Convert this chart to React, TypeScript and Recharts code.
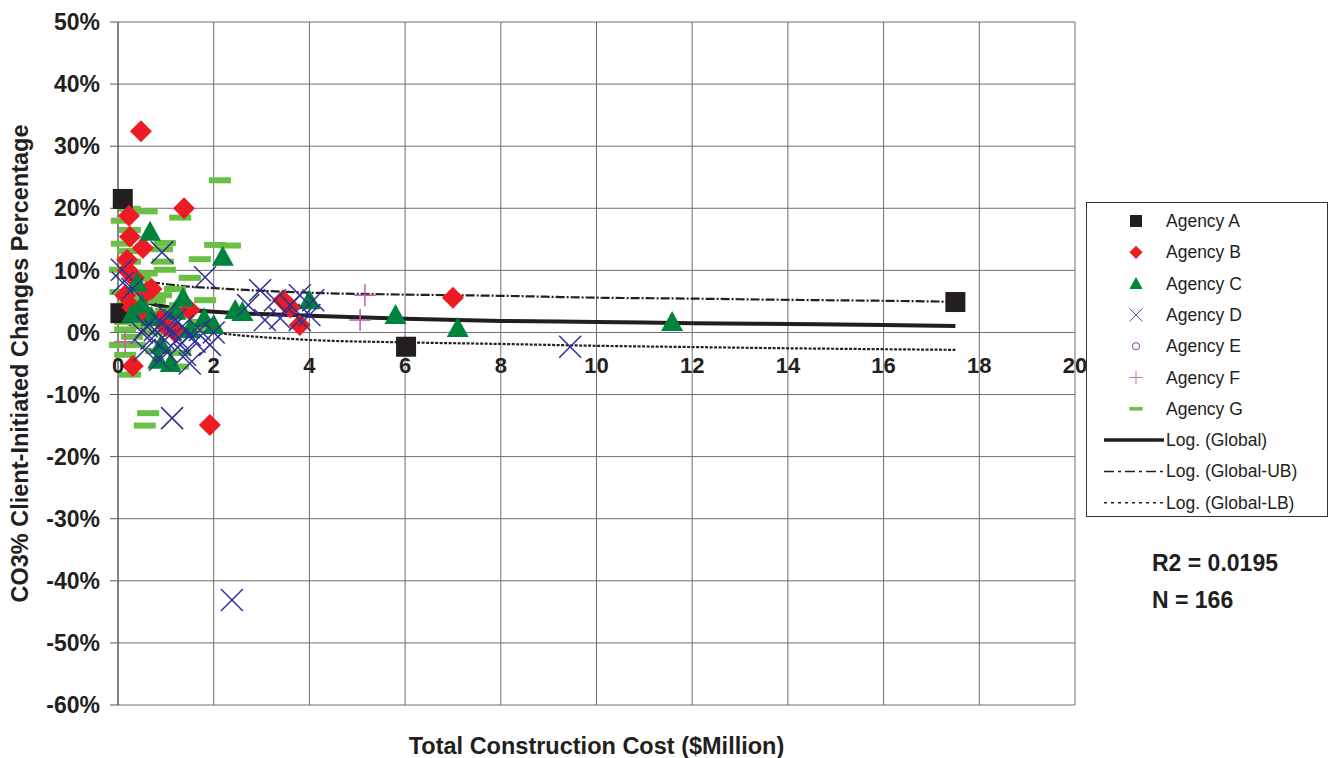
import React from 'react';
import {
  ComposedChart,
  Scatter,
  Line,
  XAxis,
  YAxis,
  CartesianGrid,
} from 'recharts';

// values: [cost $M, change %]
const agencyA = [[0.1, 21.5], [0.05, 3.1], [6.02, -2.3], [17.5, 4.9]];
const agencyB = [
  [0.48, 32.4], [1.38, 20.0], [0.23, 18.8], [0.25, 15.4], [0.52, 13.6], [0.19, 11.7],
  [0.33, 8.8], [0.88, 2.0], [1.5, 3.6], [0.6, 6.5], [7.0, 5.6], [3.45, 5.2], [3.8, 1.2],
  [0.31, -5.4], [1.92, -14.9], [0.2, 10.0], [0.15, 6.0], [0.3, 4.0], [0.5, 3.0],
  [1.0, 1.0], [1.2, 0.0], [0.7, 7.0], [3.6, 4.0],
];
const agencyC = [
  [0.67, 16.2], [2.19, 12.2], [1.36, 5.6], [0.4, 8.0], [2.45, 3.6], [2.6, 3.3], [4.0, 5.2],
  [5.8, 2.8], [7.1, 0.7], [11.58, 1.7], [0.84, -4.4], [1.1, -4.9], [1.8, 2.3], [2.0, 1.2],
  [0.7, 2.5], [0.3, 3.0], [0.5, 4.5], [1.5, 0.5], [0.9, -2.0], [1.2, 3.5],
];
const agencyD = [
  [2.38, -43.1], [1.13, -13.8], [9.45, -2.3], [1.82, 8.9], [0.92, 12.9], [0.08, 10.1],
  [2.97, 6.8], [3.28, 5.2], [3.6, 4.4], [3.8, 6.0], [3.39, 2.3], [3.07, 2.0], [3.8, 2.0],
  [4.08, 5.2], [4.0, 2.8], [2.72, 4.4], [0.77, 0.4], [0.98, -1.2], [1.3, -2.0], [1.5, -0.4],
  [1.71, 0.4], [1.4, -3.6], [0.56, -2.8], [1.19, 2.0], [0.88, -4.4], [1.92, -2.0],
  [0.6, 1.0], [0.7, -1.0], [0.9, 1.5], [1.0, -3.0], [1.1, 0.5], [1.25, -1.0], [1.35, 1.0],
  [1.6, -1.5], [1.0, 3.0], [0.5, 0.0], [0.3, 7.0], [0.1, 8.0], [1.5, -5.0], [2.0, 0.0],
];
const agencyE = [[0.3, 2.0]];
const agencyF = [[5.16, 6.0], [5.06, 2.0], [0.15, -1.5]];
const agencyG = [
  [2.13, 24.5], [0.25, 19.9], [0.6, 19.5], [1.3, 18.5], [0.08, 18.0], [0.25, 16.5],
  [0.08, 14.3], [0.98, 14.4], [0.92, 13.4], [2.03, 14.1], [2.34, 14.0], [0.21, 13.1],
  [0.25, 11.4], [0.94, 11.4], [1.71, 11.8], [0.04, 10.1], [0.98, 10.1], [0.46, 8.6],
  [1.5, 8.8], [0.56, 7.3], [1.19, 7.0], [0.21, 5.9], [0.77, 5.1], [1.3, 4.4], [1.82, 5.2],
  [0.46, 3.6], [0.15, 1.7], [1.3, 2.8], [1.71, 1.7], [0.29, -0.7], [0.04, -2.0],
  [0.15, -3.6], [1.3, -3.3], [0.25, -6.8], [1.25, -5.5], [0.63, -13.0], [0.56, -15.0],
  [0.1, 3.0], [0.3, 2.0], [0.5, 1.0], [0.7, 0.0], [1.0, 3.5], [0.2, 4.5], [0.4, 5.5],
  [0.05, 6.5], [0.9, 6.0], [1.6, 0.5], [0.35, -2.0], [0.8, -3.0], [0.15, 0.5], [0.6, 9.5],
];

// trend lines, read at these costs
const trendX = [0.1, 0.5, 1.2, 2.1, 4, 6, 8, 10, 12, 14, 16, 17.5];
const trendGlobal = [7.1, 5.2, 3.9, 3.3, 2.7, 2.2, 1.85, 1.7, 1.5, 1.35, 1.2, 1.05];
const trendUB = [9.7, 8.5, 7.6, 7.1, 6.4, 6.1, 5.9, 5.6, 5.45, 5.25, 5.1, 4.95];
const trendLB = [3.1, 2.0, 0.9, -0.1, -1.2, -1.6, -1.85, -2.15, -2.35, -2.55, -2.7, -2.8];

const xTicks = [0, 2, 4, 6, 8, 10, 12, 14, 16, 18, 20];
const yTicks = [-60, -50, -40, -30, -20, -10, 0, 10, 20, 30, 40, 50];

const W = 1331;
const H = 758;
const TOP = 22;
const X_AXIS_H = 53;
const PLOT_H = H - TOP - X_AXIS_H;
const Y_MIN = -60;
const Y_MAX = 50;
const ZERO_Y = TOP + (PLOT_H * Y_MAX) / (Y_MAX - Y_MIN);

const FONT = '"Liberation Sans", Arial, sans-serif';
const BLACK = '#231f20';
const RED = '#ed1c24';
const DGREEN = '#00843d';
const NAVY = '#2e3192';
const PURPLE = '#7b2a8c';
const PINK = '#c45aaf';
const LGREEN = '#6abf45';

const pts = (arr: number[][]) => arr.map(([x, y]) => ({ x, y }));
const trend = (ys: number[]) => trendX.map((x, i) => ({ x, y: ys[i] }));

const Square = (p: any) => (
  <rect x={p.cx - 10} y={p.cy - 10} width={20} height={20} fill={BLACK} />
);
const Diamond = (p: any) => (
  <polygon
    points={`${p.cx},${p.cy - 11} ${p.cx + 11},${p.cy} ${p.cx},${p.cy + 11} ${p.cx - 11},${p.cy}`}
    fill={RED}
  />
);
const Triangle = (p: any) => (
  <polygon
    points={`${p.cx},${p.cy - 11} ${p.cx + 11},${p.cy + 9} ${p.cx - 11},${p.cy + 9}`}
    fill={DGREEN}
  />
);
const Cross = (p: any) => (
  <g stroke={NAVY} strokeWidth={1.5}>
    <line x1={p.cx - 11} y1={p.cy - 11} x2={p.cx + 11} y2={p.cy + 11} />
    <line x1={p.cx - 11} y1={p.cy + 11} x2={p.cx + 11} y2={p.cy - 11} />
  </g>
);
const Circle = (p: any) => (
  <circle cx={p.cx} cy={p.cy} r={6} fill="none" stroke={PURPLE} strokeWidth={1.5} />
);
const Plus = (p: any) => (
  <g stroke={PINK} strokeWidth={1.5}>
    <line x1={p.cx - 11} y1={p.cy} x2={p.cx + 11} y2={p.cy} />
    <line x1={p.cx} y1={p.cy - 11} x2={p.cx} y2={p.cy + 11} />
  </g>
);
const Dash = (p: any) => (
  <rect x={p.cx - 11} y={p.cy - 3} width={22} height={6} fill={LGREEN} />
);

const XTick = (p: any) => (
  <text
    x={p.x}
    y={ZERO_Y + 41}
    textAnchor="middle"
    fontFamily={FONT}
    fontWeight="bold"
    fontSize={22}
    fill={BLACK}
  >
    {p.payload.value}
  </text>
);

const legendMarkers = [
  { name: 'Agency A', shape: Square },
  { name: 'Agency B', shape: Diamond },
  { name: 'Agency C', shape: Triangle },
  { name: 'Agency D', shape: Cross },
  { name: 'Agency E', shape: Circle },
  { name: 'Agency F', shape: Plus },
  { name: 'Agency G', shape: Dash },
];
const legendLines = [
  { name: 'Log. (Global)', width: 3.5, dash: undefined },
  { name: 'Log. (Global-UB)', width: 1.5, dash: '10 4 3 4' },
  { name: 'Log. (Global-LB)', width: 1.5, dash: '3 4' },
];

function ChartLegend() {
  const rowH = 31.3;
  return (
    <svg
      width={243}
      height={316}
      style={{ position: 'absolute', left: 1086, top: 202 }}
    >
      <rect x={0.5} y={0.5} width={241} height={314} fill="#fff" stroke="#333" />
      {legendMarkers.map((m, i) => {
        const cy = 19 + i * rowH;
        const Shape = m.shape;
        return (
          <g key={m.name}>
            <g transform={`translate(${50},${cy}) scale(0.6) translate(${-50},${-cy})`}>
              <Shape cx={50} cy={cy} />
            </g>
            <text x={80} y={cy + 6} fontFamily={FONT} fontSize={17.5} fill={BLACK}>
              {m.name}
            </text>
          </g>
        );
      })}
      {legendLines.map((l, i) => {
        const cy = 19 + (7 + i) * rowH;
        return (
          <g key={l.name}>
            <line
              x1={18}
              x2={78}
              y1={cy}
              y2={cy}
              stroke={BLACK}
              strokeWidth={l.width}
              strokeDasharray={l.dash}
            />
            <text x={80} y={cy + 6} fontFamily={FONT} fontSize={17.5} fill={BLACK}>
              {l.name}
            </text>
          </g>
        );
      })}
    </svg>
  );
}

export default function App() {
  return (
    <div style={{ position: 'absolute', left: 0, top: 0, width: W, height: H, background: '#fff' }}>
      <ComposedChart
        width={W}
        height={H}
        margin={{ top: TOP, right: 256, bottom: 0, left: 0 }}
      >
        <CartesianGrid stroke="#6d6e71" strokeWidth={1} />
        <XAxis
          type="number"
          dataKey="x"
          domain={[0, 20]}
          ticks={xTicks}
          interval={0}
          height={X_AXIS_H}
          axisLine={false}
          tickLine={false}
          tick={<XTick />}
          label={{
            value: 'Total Construction Cost ($Million)',
            position: 'insideBottom',
            offset: 4,
            style: { fontFamily: FONT, fontWeight: 'bold', fontSize: 23.5, fill: BLACK },
          }}
        />
        <YAxis
          type="number"
          dataKey="y"
          domain={[Y_MIN, Y_MAX]}
          ticks={yTicks}
          interval={0}
          width={118}
          tickSize={8}
          tickMargin={10}
          stroke="#555"
          tickFormatter={(v) => `${v}%`}
          tick={{ fontFamily: FONT, fontWeight: 'bold', fontSize: 23, fill: BLACK }}
          label={{
            value: 'CO3% Client-Initiated Changes Percentage',
            angle: -90,
            position: 'insideLeft',
            offset: 20,
            style: {
              textAnchor: 'middle',
              fontFamily: FONT,
              fontWeight: 'bold',
              fontSize: 23.5,
              fill: BLACK,
            },
          }}
        />
        <Scatter name="Agency E" data={pts(agencyE)} dataKey="y" shape={Circle} isAnimationActive={false} />
        <Scatter name="Agency G" data={pts(agencyG)} dataKey="y" shape={Dash} isAnimationActive={false} />
        <Scatter name="Agency A" data={pts(agencyA)} dataKey="y" shape={Square} isAnimationActive={false} />
        <Scatter name="Agency B" data={pts(agencyB)} dataKey="y" shape={Diamond} isAnimationActive={false} />
        <Scatter name="Agency C" data={pts(agencyC)} dataKey="y" shape={Triangle} isAnimationActive={false} />
        <Scatter name="Agency D" data={pts(agencyD)} dataKey="y" shape={Cross} isAnimationActive={false} />
        <Scatter name="Agency F" data={pts(agencyF)} dataKey="y" shape={Plus} isAnimationActive={false} />
        <Line
          data={trend(trendUB)}
          dataKey="y"
          type="monotone"
          stroke={BLACK}
          strokeWidth={2.2}
          strokeDasharray="9 2 2 2"
          dot={false}
          isAnimationActive={false}
        />
        <Line
          data={trend(trendLB)}
          dataKey="y"
          type="monotone"
          stroke={BLACK}
          strokeWidth={2.2}
          strokeDasharray="3 1.5"
          dot={false}
          isAnimationActive={false}
        />
        <Line
          data={trend(trendGlobal)}
          dataKey="y"
          type="monotone"
          stroke={BLACK}
          strokeWidth={4}
          dot={false}
          isAnimationActive={false}
        />
      </ComposedChart>
      <ChartLegend />
      <div
        style={{
          position: 'absolute',
          left: 1152,
          top: 545,
          fontFamily: FONT,
          fontWeight: 'bold',
          fontSize: 23,
          lineHeight: '37px',
          color: BLACK,
        }}
      >
        <div>R2 = 0.0195</div>
        <div>N = 166</div>
      </div>
    </div>
  );
}
